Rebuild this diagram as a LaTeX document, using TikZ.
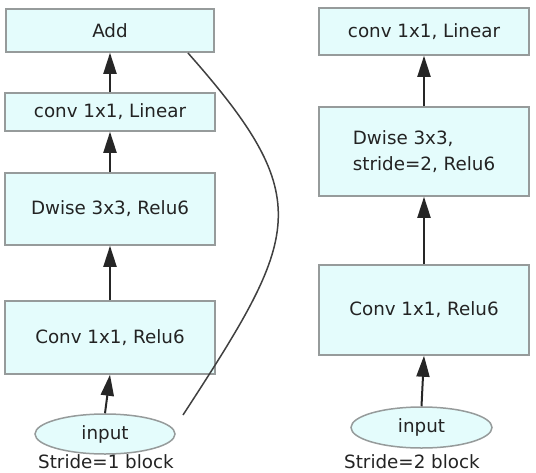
\documentclass[tikz,border=0pt]{standalone}
\usepackage{fontspec}
\setmainfont{DejaVu Sans}
\usetikzlibrary{arrows.meta,shapes.geometric}
\definecolor{boxfill}{RGB}{228,252,252}
\definecolor{boxline}{RGB}{150,155,155}
\definecolor{txt}{RGB}{35,35,35}
\tikzset{
  blk/.style={draw=boxline, line width=1.5pt, fill=boxfill, text=txt, minimum width=210pt, inner sep=0pt, font=\fontsize{18.3}{26}\selectfont},
  inp/.style={ellipse, draw=boxline, line width=1.5pt, fill=boxfill, text=txt, inner sep=0pt, font=\fontsize{18.3}{20}\selectfont},
  captxt/.style={text=txt, font=\fontsize{18.3}{20}\selectfont, anchor=base, inner sep=0pt},
  arr/.style={line width=2pt, draw=black!85, -{Triangle[length=21pt,width=13pt]}},
  skipline/.style={line width=1.5pt, draw=black!75}
}
\begin{document}
\begin{tikzpicture}[x=1pt,y=-1pt]
\useasboundingbox (0,0) rectangle (536,472);
% left block
\node[blk, minimum width=208pt, minimum height=43pt] (add) at (110,30.5) {Add};
\node[blk, minimum height=38pt] (lin1) at (110,112) {conv 1x1, Linear};
\node[blk, minimum height=72pt] (dw1) at (110,209) {Dwise 3x3, Relu6};
\node[blk, minimum height=73pt] (cv1) at (110,337.5) {Conv 1x1, Relu6};
\node[inp, minimum width=140pt, minimum height=40pt] (in1) at (105,434) {input};
\node[captxt] (cap1) at (106,468.5) {Stride=1 block};
% right block
\node[blk, minimum height=47pt] (lin2) at (424,31.5) {conv 1x1, Linear};
\node[blk, minimum height=89pt, align=left] (dw2) at (424,151.5) {Dwise 3x3,\\stride=2, Relu6};
\node[blk, minimum height=90pt] (cv2) at (424,310) {Conv 1x1, Relu6};
\node[inp, minimum width=141pt, minimum height=41pt] (in2) at (421.5,427.5) {input};
\node[captxt] (cap2) at (412,468.5) {Stride=2 block};
% arrows left
\draw[arr] (in1.north) -- (cv1.south);
\draw[arr] (cv1.north) -- (dw1.south);
\draw[arr] (dw1.north) -- (lin1.south);
\draw[arr] (lin1.north) -- (add.south);
% skip connection
\coordinate (ss) at (183,415);
\coordinate (se) at (188,53);
\draw[skipline] (ss) .. controls (300,235) and (318,200) .. (se);
% arrows right
\draw[arr] (in2.north) -- (cv2.south);
\draw[arr] (cv2.north) -- (dw2.south);
\draw[arr] (dw2.north) -- (lin2.south);
\end{tikzpicture}
\end{document}
